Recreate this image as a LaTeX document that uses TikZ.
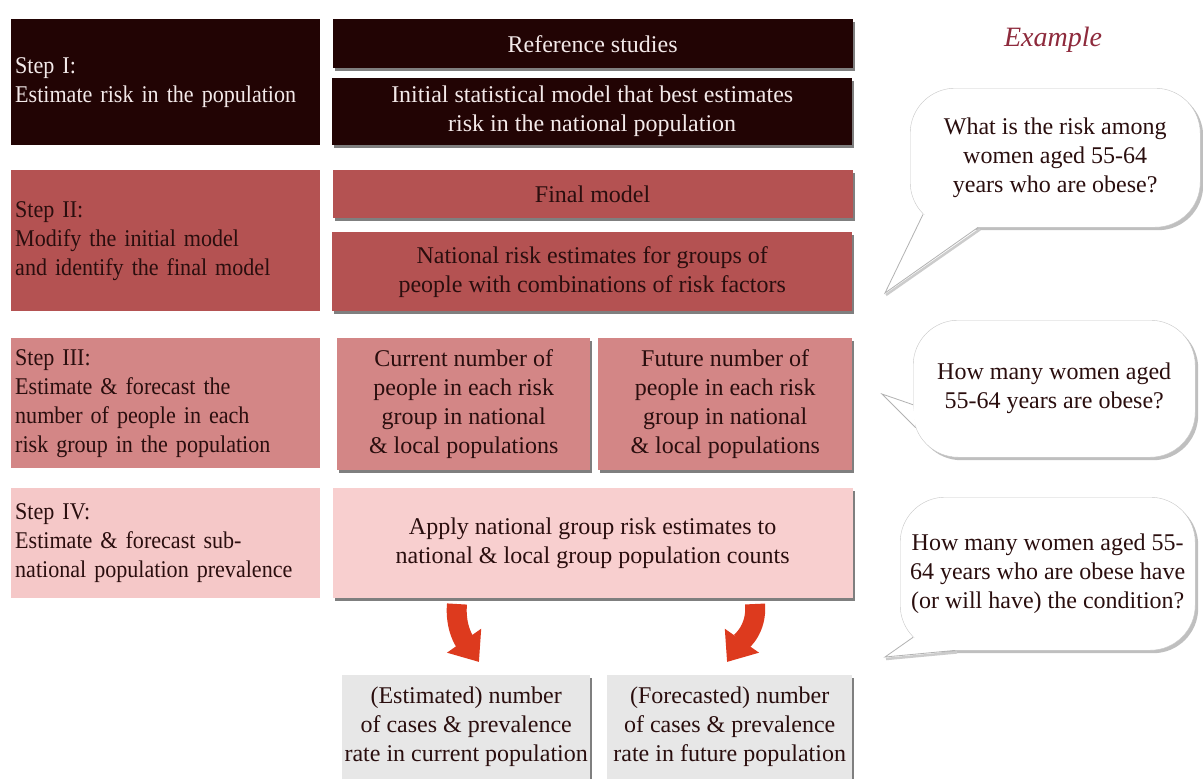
\documentclass[tikz,border=0pt]{standalone}
\usepackage{fontspec}
\setmainfont{Liberation Serif}
\newfontfamily\stepfont[FakeStretch=0.92]{Liberation Serif}
\usetikzlibrary{arrows.meta,shadows,positioning,calc}

\definecolor{stepone}{HTML}{220404}
\definecolor{steptwo}{HTML}{B45252}
\definecolor{stepthree}{HTML}{D38686}
\definecolor{stepfour}{HTML}{F5C8C8}
\definecolor{applyfill}{HTML}{F8CFCF}
\definecolor{resultfill}{HTML}{E7E7E7}
\definecolor{arrowred}{HTML}{DD3A1E}
\definecolor{exred}{HTML}{8E2A3C}
\definecolor{darktext}{HTML}{2A0E0E}
\definecolor{lighttext}{HTML}{F3E9E9}

\tikzset{
  stepbox/.style={anchor=north west, minimum width=309pt, text width=301pt,
    inner xsep=4pt, inner ysep=0pt, align=left,
    font=\stepfont\fontsize{24}{29}\selectfont},
  taskbox/.style={anchor=north west, align=center, inner sep=0pt,
    drop shadow={shadow xshift=2pt, shadow yshift=-3pt, fill=black, opacity=0.5}},
  callout/.style={anchor=north west, align=center, inner sep=0pt, fill=white,
    draw=black!22, rounded corners=45pt, text=darktext,
    drop shadow={shadow xshift=3pt, shadow yshift=-3pt, fill=black, opacity=0.25}},
  tailline/.style={draw=black!30, line width=0.8pt},
  redarrow/.style={arrowred, line width=20pt, -{Triangle[width=40pt,length=26pt]}}
}

\begin{document}
\begin{tikzpicture}[x=1pt, y=-1pt, font=\fontsize{24}{29}\selectfont]
\useasboundingbox[fill=white] (0,0) rectangle (1203,779);

% steps on the left
\node[stepbox, fill=stepone, text=lighttext, minimum height=126pt] (s1) at (11,19)
  {Step I:\\Estimate risk in the population};
\node[stepbox, fill=steptwo, text=darktext, minimum height=141pt] (s2) at (11,170)
  {Step II:\\Modify the initial model\\and identify the final model};
\node[stepbox, fill=stepthree, text=darktext, minimum height=130pt] (s3) at (11,338)
  {Step III:\\Estimate \& forecast the\\number of people in each\\risk group in the population};
\node[stepbox, fill=stepfour, text=darktext, minimum height=110pt] (s4) at (11,488)
  {Step IV:\\Estimate \& forecast sub-\\national population prevalence};

% what is done in each step
\node[taskbox, fill=stepone, text=lighttext, minimum width=520pt, minimum height=49pt,
  right=12pt of s1.north east, anchor=north west] (ref) {Reference studies};
\node[taskbox, fill=stepone, text=lighttext, minimum width=520pt, minimum height=67pt]
  (init) at (332,78) {Initial statistical model that best estimates\\risk in the national population};
\node[taskbox, fill=steptwo, text=darktext, minimum width=520pt, minimum height=48pt,
  right=12pt of s2.north east, anchor=north west] (final) {Final model};
\node[taskbox, fill=steptwo, text=darktext, minimum width=520pt, minimum height=79pt]
  (natl) at (332,232) {National risk estimates for groups of\\people with combinations of risk factors};
\node[taskbox, fill=stepthree, text=darktext, minimum width=253pt, minimum height=132pt]
  (cur) at (337,338) {Current number of\\people in each risk\\group in national\\\& local populations};
\node[taskbox, fill=stepthree, text=darktext, minimum width=254pt, minimum height=132pt]
  (fut) at (598,338) {Future number of\\people in each risk\\group in national\\\& local populations};
\node[taskbox, fill=applyfill, text=darktext, minimum width=520pt, minimum height=110pt,
  right=12pt of s4.north east, anchor=north west] (apply)
  {Apply national group risk estimates to\\national \& local group population counts};

% results
\node[taskbox, fill=resultfill, text=darktext, minimum width=248pt, minimum height=104pt]
  (est) at (342,675) {(Estimated) number\\of cases \& prevalence\\rate in current population};
\node[taskbox, fill=resultfill, text=darktext, minimum width=245pt, minimum height=104pt,
  drop shadow={opacity=0}] (fore) at (607,675)
  {(Forecasted) number\\of cases \& prevalence\\rate in future population};

\coordinate (a1s) at (457,604);
\coordinate (a1e) at (479,662);
\coordinate (a2s) at (755,604);
\coordinate (a2e) at (727,662);
\draw[redarrow] (a1s) to[out=-95, in=125] (a1e);
\draw[redarrow] (a2s) to[out=-85, in=55] (a2e);

% example questions
\node[text=exred, font=\fontsize{28}{32}\selectfont\itshape] (ex) at (1053,40) {Example};

\node[callout, minimum width=290pt, minimum height=139pt] (q1) at (910,88)
  {What is the risk among\\women aged 55-64\\years who are obese?};
\coordinate (t1) at (885,293);
\fill[white] ($(q1.south west)+(68pt,0pt)$) -- (t1) -- ($(q1.south west)+(13pt,13pt)$) -- cycle;
\draw[black!20, line width=2.5pt] ($(q1.south west)+(70pt,-2pt)$) -- ($(t1)+(1pt,-2pt)$);
\draw[tailline] ($(q1.south west)+(68pt,0pt)$) -- (t1) -- ($(q1.south west)+(13pt,13pt)$);

\node[callout, minimum width=282pt, minimum height=137pt] (q2) at (913,320)
  {How many women aged\\55-64 years are obese?};
\coordinate (t2) at (882,394);
\fill[white] ($(q2.west)+(0pt,-16pt)$) -- (t2) -- ($(q2.west)+(2.7pt,-39pt)$) -- cycle;
\draw[tailline] ($(q2.west)+(0pt,-16pt)$) -- (t2) -- ($(q2.west)+(2.7pt,-39pt)$);

\node[callout, minimum width=295pt, minimum height=153pt] (q3) at (900,497)
  {How many women aged 55-\\64 years who are obese have\\(or will have) the condition?};
\coordinate (t3) at (885,657);
\fill[white] ($(q3.south west)+(55pt,0pt)$) -- (t3) -- ($(q3.south west)+(13.2pt,13.2pt)$) -- cycle;
\draw[black!20, line width=2.5pt] ($(q3.south west)+(57pt,-2pt)$) -- ($(t3)+(1pt,-2pt)$);
\draw[tailline] ($(q3.south west)+(55pt,0pt)$) -- (t3) -- ($(q3.south west)+(13.2pt,13.2pt)$);
\end{tikzpicture}
\end{document}
